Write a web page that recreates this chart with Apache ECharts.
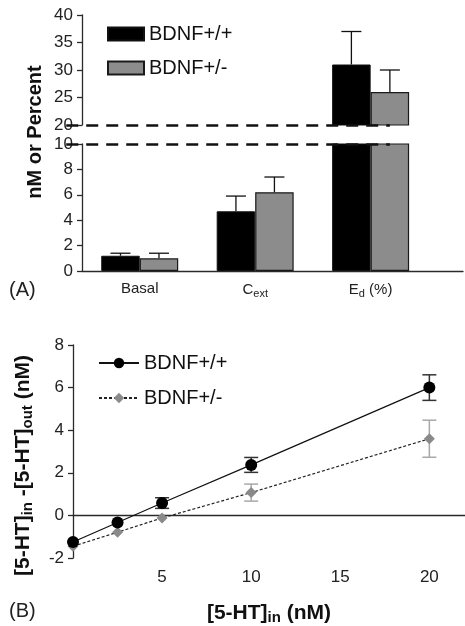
<!DOCTYPE html>
<html><head><meta charset="utf-8">
<script src="https://cdn.jsdelivr.net/npm/echarts@6/dist/echarts.min.js"></script>
<style>html,body{margin:0;padding:0;background:#fff}#c{width:465px;height:626px}</style>
</head><body><div id="c"></div>
<script>
// ---- Panel A data ----
const categories = ['Basal', 'C{sub|ext}', 'E{sub|d} (%)'];
const wtMeans = [1.2, 4.7, 31];
const wtErrs = [0.2, 1.2, 6];
const hetMeans = [1.0, 6.2, 26];
const hetErrs = [0.4, 1.2, 4];
const upperRange = [20, 40, 5];
const lowerRange = [0, 10, 2];

// ---- Panel B data ----
const htIn = [0, 2.5, 5, 10, 20];
const wtDiff = [-1.25, -0.33, 0.58, 2.37, 6.0];
const wtDiffErr = [0, 0, 0.25, 0.35, 0.6];
const hetDiff = [-1.45, -0.79, -0.12, 1.07, 3.6];
const hetDiffErr = [0, 0, 0, 0.4, 0.87];

const FONT = '"Liberation Sans", Arial, Helvetica, sans-serif';
const AX = '#2a2a2a';
const XMAX = 3.3;
const centers = categories.map((c, i) => i + 0.5);
const breakStart = 0.03;
const breakEnd = categories.length - 0.5 + 1 / 3;

function barData(vals) { return vals.map((v, i) => [centers[i], v]); }
function errRows(means, errs, side) { return means.map((v, i) => [centers[i], v, errs[i], side]); }

function barErrRender(params, api) {
  const x = api.value(0), m = api.value(1), e = api.value(2), side = api.value(3);
  const off = api.size([1 / 6, 0])[0] * side;
  const p0 = api.coord([x, m]);
  const p1 = api.coord([x, m + e]);
  const cx = p0[0] + off, cap = 10;
  const st = { stroke: '#111', lineWidth: 1.3 };
  return { type: 'group', children: [
    { type: 'line', shape: { x1: cx, y1: p0[1], x2: cx, y2: p1[1] }, style: st },
    { type: 'line', shape: { x1: cx - cap, y1: p1[1], x2: cx + cap, y2: p1[1] }, style: st }
  ]};
}
function ptErrRender(color) {
  return function (params, api) {
    const x = api.value(0), m = api.value(1), e = api.value(2);
    const top = api.coord([x, m + e]);
    const bot = api.coord([x, m - e]);
    const cap = 7;
    const st = { stroke: color, lineWidth: 1.5 };
    return { type: 'group', children: [
      { type: 'line', shape: { x1: top[0], y1: top[1], x2: bot[0], y2: bot[1] }, style: st },
      { type: 'line', shape: { x1: top[0] - cap, y1: top[1], x2: top[0] + cap, y2: top[1] }, style: st },
      { type: 'line', shape: { x1: bot[0] - cap, y1: bot[1], x2: bot[0] + cap, y2: bot[1] }, style: st }
    ]};
  };
}
function ptErrData(xs, ys, es) {
  return xs.map((x, i) => [x, ys[i], es[i]]).filter(r => r[2] > 0);
}

const yLabelA = { fontSize: 17, color: '#222', fontFamily: FONT, margin: 9 };
const yLabelB = { fontSize: 17, color: '#222', fontFamily: FONT, margin: 9 };
const yLine = { show: true, lineStyle: { color: AX, width: 1.3 } };
const yTick = { show: true, length: 5, lineStyle: { color: AX, width: 1.3 } };
const dashStyle = { color: '#111', width: 2.6, type: [12, 8] };

const chart = echarts.init(document.getElementById('c'), null, { renderer: 'canvas' });
chart.setOption({
  animation: false,
  backgroundColor: '#fff',
  textStyle: { fontFamily: FONT },
  grid: [
    { left: 82, right: 2, top: 15, height: 110 },
    { left: 82, right: 2, top: 144, height: 127 },
    { left: 73, right: 0, top: 345, height: 262 }
  ],
  xAxis: [
    { type: 'value', gridIndex: 0, min: 0, max: XMAX, show: false },
    { type: 'value', gridIndex: 1, min: 0, max: XMAX, splitLine: { show: false },
      axisLine: { show: true, lineStyle: { color: AX, width: 1.3 } }, axisTick: { show: false },
      axisLabel: { customValues: centers, fontSize: 15, color: '#222', margin: 10,
        formatter: v => categories[Math.round(v - 0.5)],
        rich: { sub: { fontSize: 11, padding: [7, 0, 0, 0], color: '#222' } } } },
    { type: 'value', gridIndex: 2, min: 0, max: 22, interval: 5, splitLine: { show: false },
      axisLine: { show: true, onZero: true, lineStyle: { color: AX, width: 1.3 } },
      axisTick: { show: false },
      axisLabel: { fontSize: 17, color: '#222', margin: 11, showMaxLabel: false,
        formatter: v => (v !== 0 && v % 5 === 0) ? String(v) : '' },
      name: '[5-HT]{sub|in} (nM)', nameLocation: 'middle', nameGap: 43,
      nameTextStyle: { fontSize: 21, fontWeight: 'bold', color: '#111',
        rich: { sub: { fontSize: 15, fontWeight: 'bold', padding: [9, 0, 0, 0], color: '#111' } } } }
  ],
  yAxis: [
    { type: 'value', gridIndex: 0, min: upperRange[0], max: upperRange[1], interval: upperRange[2],
      splitLine: { show: false }, axisLine: yLine, axisTick: yTick, axisLabel: yLabelA },
    { type: 'value', gridIndex: 1, min: lowerRange[0], max: lowerRange[1], interval: lowerRange[2],
      splitLine: { show: false }, axisLine: yLine, axisTick: yTick, axisLabel: yLabelA },
    { type: 'value', gridIndex: 2, min: -2, max: 8, interval: 2,
      splitLine: { show: false }, axisLine: Object.assign({}, yLine, { onZero: false }), axisTick: yTick, axisLabel: yLabelB,
      name: '[5-HT]{sub|in} -[5-HT]{sub|out} (nM)', nameLocation: 'middle', nameGap: 38, nameRotate: 90,
      nameTextStyle: { fontSize: 21, fontWeight: 'bold', color: '#111', padding: [0, 28, 0, 0],
        rich: { sub: { fontSize: 15, fontWeight: 'bold', padding: [9, 0, 0, 0], color: '#111' } } } }
  ],
  legend: [
    { data: ['BDNF+/+', 'BDNF+/-'], orient: 'vertical', left: 102, top: 19, icon: 'rect',
      itemWidth: 36, itemHeight: 13, itemGap: 14, itemTextGap: 7,
      textStyle: { fontSize: 20, lineHeight: 20, color: '#111' } },
    { data: ['BDNF+/+ ', 'BDNF+/- '], orient: 'vertical', left: 93, top: 348,
      itemWidth: 40, itemHeight: 13, itemGap: 15, itemTextGap: 5,
      formatter: n => n.trim(),
      textStyle: { fontSize: 20, lineHeight: 20, color: '#111' } }
  ],
  graphic: [
    { type: 'text', x: 35, y: 132, rotation: Math.PI / 2,
      style: { text: 'nM or Percent', font: 'bold 20px ' + FONT, fill: '#111', align: 'center', verticalAlign: 'middle' } },
    { type: 'text', left: 9, top: 280, style: { text: '(A)', font: '20px ' + FONT, fill: '#222' } },
    { type: 'text', left: 9, top: 601, style: { text: '(B)', font: '20px ' + FONT, fill: '#222' } }
  ],
  series: [
    { name: 'BDNF+/+', type: 'bar', xAxisIndex: 0, yAxisIndex: 0, data: barData(wtMeans),
      barWidth: '33.33%', barGap: '0%', clip: true,
      itemStyle: { color: '#000', borderColor: '#111', borderWidth: 1 },
      markLine: { silent: true, symbol: 'none', label: { show: false }, lineStyle: dashStyle,
        data: [[{ coord: [breakStart, upperRange[0]] }, { coord: [breakEnd, upperRange[0]] }]] } },
    { name: 'BDNF+/-', type: 'bar', xAxisIndex: 0, yAxisIndex: 0, data: barData(hetMeans),
      barWidth: '33.33%', barGap: '0%', clip: true,
      itemStyle: { color: '#8c8c8c', borderColor: '#1a1a1a', borderWidth: 1.2 } },
    { name: 'BDNF+/+', type: 'bar', xAxisIndex: 1, yAxisIndex: 1, data: barData(wtMeans),
      barWidth: '33.33%', barGap: '0%', clip: true,
      itemStyle: { color: '#000', borderColor: '#111', borderWidth: 1 },
      markLine: { silent: true, symbol: 'none', label: { show: false }, lineStyle: dashStyle,
        data: [[{ coord: [breakStart, lowerRange[1]] }, { coord: [breakEnd, lowerRange[1]] }]] } },
    { name: 'BDNF+/-', type: 'bar', xAxisIndex: 1, yAxisIndex: 1, data: barData(hetMeans),
      barWidth: '33.33%', barGap: '0%', clip: true,
      itemStyle: { color: '#8c8c8c', borderColor: '#1a1a1a', borderWidth: 1.2 } },
    { type: 'custom', xAxisIndex: 0, yAxisIndex: 0, clip: true, z: 1,
      data: errRows(wtMeans, wtErrs, -1).concat(errRows(hetMeans, hetErrs, 1)), renderItem: barErrRender },
    { type: 'custom', xAxisIndex: 1, yAxisIndex: 1, clip: true, z: 1,
      data: errRows(wtMeans, wtErrs, -1).concat(errRows(hetMeans, hetErrs, 1)), renderItem: barErrRender },
    { type: 'custom', xAxisIndex: 2, yAxisIndex: 2, z: 2,
      data: ptErrData(htIn, hetDiff, hetDiffErr), renderItem: ptErrRender('#a8a8a8') },
    { type: 'custom', xAxisIndex: 2, yAxisIndex: 2, z: 2,
      data: ptErrData(htIn, wtDiff, wtDiffErr), renderItem: ptErrRender('#333') },
    { name: 'BDNF+/- ', type: 'line', xAxisIndex: 2, yAxisIndex: 2, z: 3,
      data: htIn.map((x, i) => [x, hetDiff[i]]), symbol: 'diamond', symbolSize: 11,
      itemStyle: { color: '#8a8a8a' }, lineStyle: { color: '#222', width: 1.2, type: [3, 2] } },
    { name: 'BDNF+/+ ', type: 'line', xAxisIndex: 2, yAxisIndex: 2, z: 4,
      data: htIn.map((x, i) => [x, wtDiff[i]]), symbol: 'circle', symbolSize: 12,
      itemStyle: { color: '#000' }, lineStyle: { color: '#111', width: 1.2 } }
  ]
});
</script></body></html>
